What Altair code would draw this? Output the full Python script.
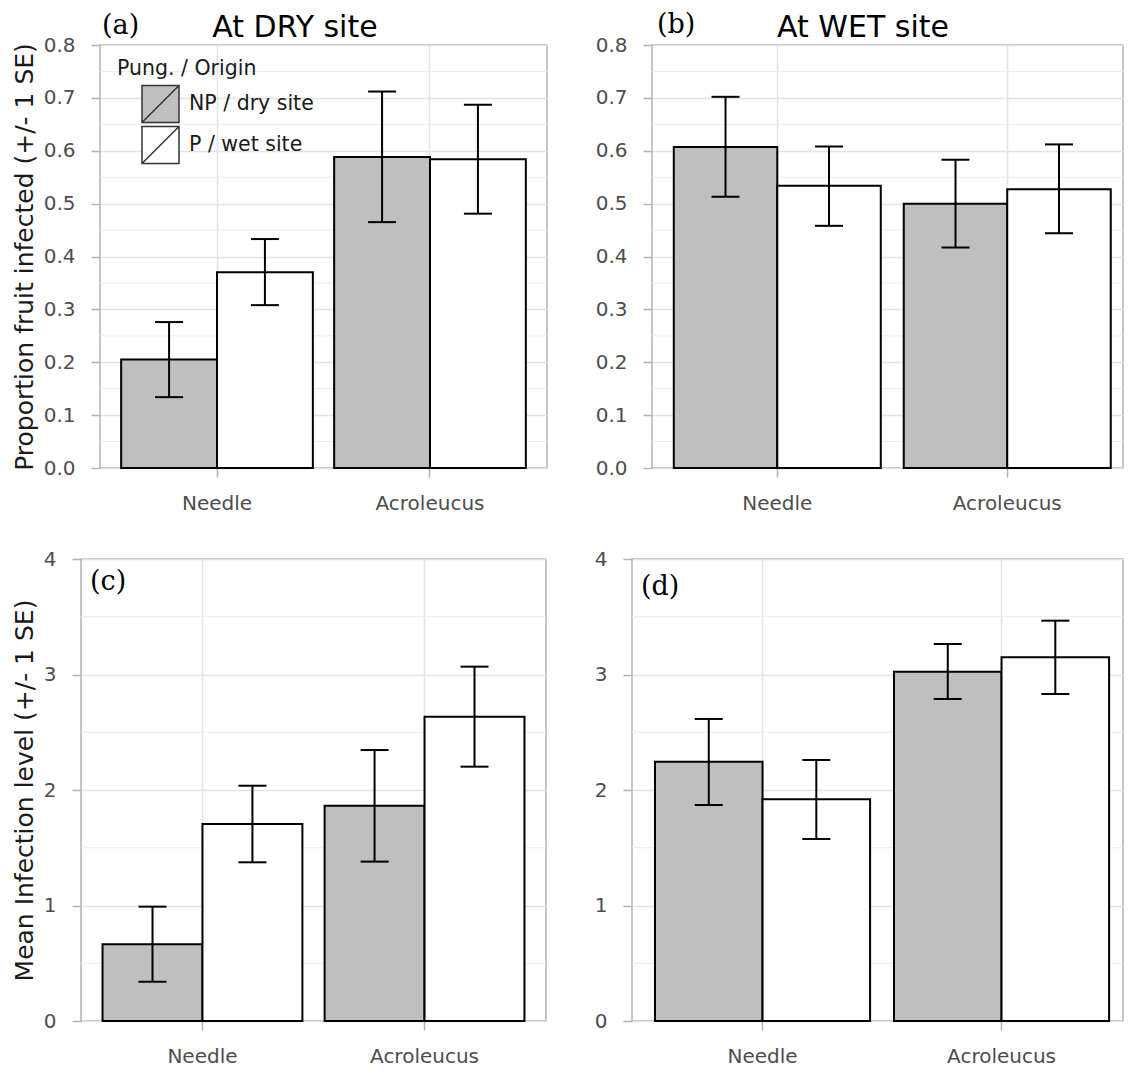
import altair as alt
import pandas as pd

# ---------------- data ----------------
categories = ["Needle", "Acroleucus"]
groups = ["NP / dry site", "P / wet site"]
cat_col = ["Needle", "Needle", "Acroleucus", "Acroleucus"]
grp_col = ["NP / dry site", "P / wet site", "NP / dry site", "P / wet site"]

# (a) proportion infected at DRY site
a_mean = [0.205, 0.370, 0.588, 0.584]
a_lo = [0.134, 0.308, 0.465, 0.481]
a_hi = [0.276, 0.433, 0.712, 0.687]
# (b) proportion infected at WET site
b_mean = [0.607, 0.534, 0.500, 0.527]
b_lo = [0.513, 0.458, 0.417, 0.444]
b_hi = [0.702, 0.608, 0.583, 0.612]
# (c) mean infection level at DRY site
c_mean = [0.664, 1.706, 1.864, 2.635]
c_lo = [0.340, 1.374, 1.380, 2.202]
c_hi = [0.990, 2.037, 2.346, 3.068]
# (d) mean infection level at WET site
d_mean = [2.245, 1.919, 3.024, 3.149]
d_lo = [1.870, 1.576, 2.788, 2.831]
d_hi = [2.615, 2.260, 3.264, 3.466]

prop_ticks = [0.0, 0.1, 0.2, 0.3, 0.4, 0.5, 0.6, 0.7, 0.8]
prop_minor = [0.05, 0.15, 0.25, 0.35, 0.45, 0.55, 0.65, 0.75]
lvl_ticks = [0, 1, 2, 3, 4]
lvl_minor = [0.5, 1.5, 2.5, 3.5]

FILLS = ["#bfbfbf", "#ffffff"]
SANS = "DejaVu Sans"
SERIF = "DejaVu Serif"


def panel(mean, lo, hi, domain, ticks, minor, fmt, width, height,
          p_outer, align, ytitle, title_text, title_x, label, label_x,
          label_y, show_legend):
    df = pd.DataFrame({"cat": cat_col, "grp": grp_col,
                       "mean": mean, "lo": lo, "hi": hi})
    xscale = alt.Scale(paddingInner=0.1, paddingOuter=p_outer, align=align)
    xaxis = alt.Axis(title=None, labelAngle=0, grid=True, domain=False)
    yscale = alt.Scale(domain=domain, nice=False, zero=True)
    yaxis = alt.Axis(values=ticks, format=fmt, title=ytitle, grid=True,
                     domain=False, titlePadding=5.6)
    xenc = alt.X("cat:N", sort=categories, scale=xscale, axis=xaxis)
    xoff = alt.XOffset("grp:N", sort=groups,
                       scale=alt.Scale(paddingInner=0, paddingOuter=0))

    if show_legend:
        legend = alt.Legend(
            orient="none", legendX=17, legendY=14,
            title="Pung. / Origin", titleFont=SANS, titleFontSize=20.5,
            titleFontWeight="normal", titleColor="#1a1a1a", titlePadding=5,
            labelFont=SANS, labelFontSize=20.5, labelColor="#1a1a1a",
            symbolType="M-1,-1H1V1H-1Z M-1,1L1,-1", symbolSize=1369,
            symbolStrokeColor="#333333", symbolStrokeWidth=1.5,
            symbolOffset=24, labelOffset=9, rowPadding=-7, padding=0,
            symbolOpacity=1)
    else:
        legend = None

    minor_grid = alt.Chart(pd.DataFrame({"v": minor})).mark_rule(
        color="#ededed", strokeWidth=1
    ).encode(y=alt.Y("v:Q", scale=yscale, axis=yaxis))

    base = alt.Chart(df)
    bars = base.mark_bar(stroke="black", strokeWidth=2).encode(
        x=xenc, xOffset=xoff,
        y=alt.Y("mean:Q", scale=yscale, axis=yaxis),
        fill=alt.Fill("grp:N", sort=groups,
                      scale=alt.Scale(domain=groups, range=FILLS),
                      legend=legend),
    )
    err = base.mark_rule(color="black", strokeWidth=2).encode(
        x=xenc, xOffset=xoff,
        y=alt.Y("lo:Q", scale=yscale, axis=yaxis), y2="hi:Q")
    cap_lo = base.mark_tick(color="black", size=28, thickness=2,
                            opacity=1).encode(
        x=xenc, xOffset=xoff, y=alt.Y("lo:Q", scale=yscale, axis=yaxis))
    cap_hi = base.mark_tick(color="black", size=28, thickness=2,
                            opacity=1).encode(
        x=xenc, xOffset=xoff, y=alt.Y("hi:Q", scale=yscale, axis=yaxis))

    layers = [minor_grid, bars, err, cap_lo, cap_hi]

    lab = alt.Chart(pd.DataFrame({"t": [label]})).mark_text(
        font=SERIF, fontSize=27, align="left", baseline="alphabetic",
        color="black"
    ).encode(x=alt.value(label_x), y=alt.value(label_y), text="t:N")
    layers.append(lab)

    if title_text:
        ttl = alt.Chart(pd.DataFrame({"t": [title_text]})).mark_text(
            font=SANS, fontSize=30, align="center", baseline="alphabetic",
            color="black"
        ).encode(x=alt.value(title_x), y=alt.value(-8), text="t:N")
        layers.append(ttl)

    return alt.layer(*layers).properties(width=width, height=height)


def spacer():
    # invisible 1px cell that anchors each row at the left edge
    return alt.Chart(pd.DataFrame({"z": [0]})).mark_point(
        size=0, opacity=0
    ).encode(x=alt.value(0), y=alt.value(0)).properties(
        width=1, height=1, view=alt.ViewBackground(stroke="transparent"))


def indep(c):
    return c.resolve_scale(fill="independent", xOffset="independent",
                           x="independent", y="independent").resolve_legend(
        fill="independent")


pa = panel(a_mean, a_lo, a_hi, [0, 0.8], prop_ticks, prop_minor, ".1f",
           447, 423, 0.0993, 0.5, "Proportion fruit infected (+/- 1 SE)",
           "At DRY site", 195, "(a)", 2, -11, True)
pb = panel(b_mean, b_lo, b_hi, [0, 0.8], prop_ticks, prop_minor, ".1f",
           471, 423, 0.074, 0.64, None,
           "At WET site", 211, "(b)", 5, -12, False)
pc = panel(c_mean, c_lo, c_hi, [0, 4], lvl_ticks, lvl_minor, "d",
           465, 462, 0.097, 0.5, "Mean Infection level (+/- 1 SE)",
           None, 0, "(c)", 9, 31, False)
pd_ = panel(d_mean, d_lo, d_hi, [0, 4], lvl_ticks, lvl_minor, "d",
            491, 462, 0.0772, 0.623, None,
            None, 0, "(d)", 9, 36, False)

row1 = indep(alt.hconcat(
    spacer(), indep(alt.hconcat(pa, pb, spacing=45)), spacing=0
))
row2 = indep(alt.hconcat(
    spacer(), indep(alt.hconcat(pc, pd_, spacing=45)), spacing=0
))

chart = indep(alt.vconcat(row1, row2, spacing=34)).properties(
    padding={"left": 8, "top": 10, "right": 0, "bottom": 0},
    background="white",
).configure_view(
    stroke="#b3b3b3", strokeWidth=1.5
).configure_axis(
    gridColor="#e3e3e3", gridWidth=1.5,
    tickColor="#b3b3b3", tickWidth=1.5, tickSize=9,
    labelFont=SANS, labelFontSize=20, labelColor="#4d4d4d",
    labelPadding=16,
    titleFont=SANS, titleFontSize=25, titleFontWeight="normal",
    titleColor="#1a1a1a",
)

chart.save("out.html", embed_options={"renderer": "svg", "actions": False})
